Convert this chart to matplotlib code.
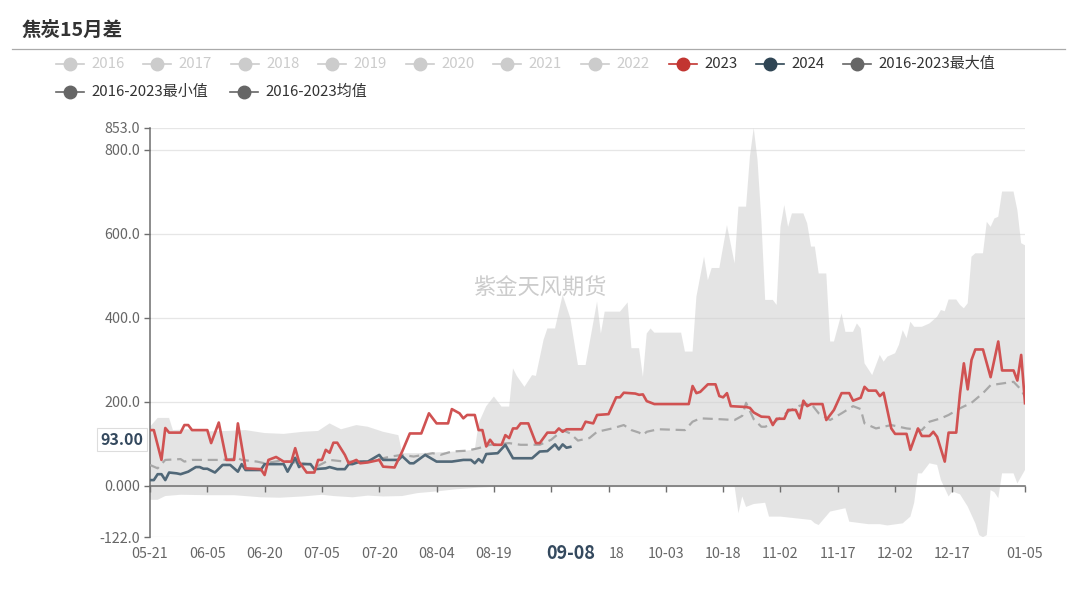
import matplotlib
matplotlib.use('Agg')
import numpy as np
import matplotlib.pyplot as plt
from matplotlib.lines import Line2D
from matplotlib import transforms

plt.rcParams['font.family'] = ['Noto Sans CJK SC', 'DejaVu Sans']

# days counted from 05-21 (0) to 01-05 (229)
tick_days = [0, 15, 30, 45, 60, 75, 90, 210, 195, 180, 165, 150, 135, 229]
tick_labels = ['05-21', '06-05', '06-20', '07-05', '07-20', '08-04', '08-19',
               '12-17', '12-02', '11-17', '11-02', '10-18', '10-03', '01-05']
tick_marks = [0, 15, 30, 45, 60, 75, 90, 105, 120, 135, 150, 165, 180, 195, 210, 229]

y_ticks = [-122, 0, 200, 400, 600, 800, 853]
y_labels = ['-122.0', '0.000', '200.0', '400.0', '600.0', '800.0', '853.0']

# 2023
d2023 = [0, 1, 3, 4, 5, 8, 9, 10, 11, 15, 16, 18, 20, 22, 23, 25, 29, 30, 31, 33,
         35, 37, 38, 39, 41, 43, 44, 45, 46, 47, 48, 49, 51, 52, 54, 55, 57, 60, 61, 64,
         66, 68, 71, 73, 75, 78, 79, 81, 82, 83, 85, 86, 87, 88, 89, 90, 92, 93, 94, 95,
         96, 97, 99, 101, 102, 104, 106, 107, 108, 109, 113, 114, 116, 117, 120, 122, 123,
         124, 127, 128, 129, 130, 132, 141, 142, 143, 144, 146, 148, 149, 150, 151, 152,
         156, 157, 158, 160, 162, 163, 164, 166, 167, 169, 170, 171, 172, 173, 176, 177,
         179, 181, 183, 184, 186, 187, 188, 190, 191, 192, 194, 195, 198, 199, 201, 202,
         204, 205, 206, 208, 209, 211, 212, 213, 214, 215, 216, 218, 220, 222, 223, 226,
         227, 228, 229]
v2023 = [133, 133, 62, 138, 127, 127, 145, 145, 133, 133, 102, 151, 62, 62, 149, 42, 40, 26, 62, 69,
         58, 58, 90, 58, 32, 32, 62, 62, 86, 79, 103, 103, 74, 54, 62, 54, 56, 62, 46, 44,
         82, 125, 125, 173, 149, 149, 183, 173, 161, 169, 169, 133, 133, 94, 110, 98, 98, 121, 114, 137,
         137, 149, 149, 102, 102, 127, 127, 137, 129, 135, 135, 153, 149, 169, 171, 211, 211,
         222, 220, 217, 218, 202, 195, 195, 238, 221, 224, 242, 242, 214, 211, 221, 190,
         188, 186, 175, 165, 164, 145, 160, 160, 181, 181, 161, 203, 190, 195, 195, 157,
         181, 221, 221, 203, 210, 236, 227, 227, 214, 222, 137, 124, 124, 86, 137, 119,
         119, 129, 117, 58, 127, 127, 221, 292, 230, 300, 325, 325, 259, 344, 275, 275,
         251, 312, 197]

# 2024
d2024 = [0, 1, 2, 3, 4, 5, 7, 8, 10, 12, 13, 14, 15, 17, 19, 21, 23, 24, 25, 29,
         30, 35, 36, 38, 39, 40, 42, 43, 46, 47, 49, 51, 52, 53, 55, 57, 60, 61, 65, 66,
         68, 69, 72, 75, 79, 82, 84, 85, 86, 87, 88, 91, 93, 95, 100, 102, 104, 106, 107,
         108, 109, 110]
v2024 = [14, 14, 28, 28, 14, 32, 30, 28, 34, 45, 45, 41, 41, 32, 50, 50, 34, 52, 38, 38,
         52, 52, 34, 67, 45, 52, 52, 40, 42, 45, 40, 40, 52, 52, 58, 58, 74, 62, 62, 71,
         54, 54, 74, 58, 58, 62, 62, 54, 64, 56, 76, 78, 98, 66, 66, 82, 83, 99, 87,
         99, 91, 93]

# 2016-2023 mean
d_avg = [0, 2, 4, 8, 9, 11, 19, 23, 24, 28, 30, 34, 36, 40, 44, 47, 51, 55, 57, 63,
         66, 69, 74, 76, 79, 83, 86, 89, 94, 97, 102, 105, 108, 110, 112, 115, 117, 121,
         124, 126, 128, 129, 130, 133, 140, 142, 144, 149, 153, 155, 156, 158, 160, 161,
         163, 167, 170, 173, 175, 178, 181, 184, 186, 187, 190, 194, 198, 202, 204, 207,
         209, 212, 215, 218, 220, 223, 226, 228, 229]
v_avg = [50, 42, 62, 64, 58, 62, 62, 66, 62, 58, 54, 60, 58, 54, 48, 62, 58, 58, 58, 70,
         74, 70, 78, 74, 82, 84, 90, 98, 102, 98, 98, 110, 133, 125, 108, 114, 129, 137,
         145, 133, 127, 121, 129, 135, 133, 153, 161, 159, 157, 167, 198, 159, 141, 141,
         149, 177, 191, 196, 173, 157, 173, 190, 183, 149, 137, 145, 137, 133, 153, 161,
         169, 185, 198, 221, 240, 244, 248, 229, 212]

# 2016-2023 max / min band
d_max = [0, 2, 5, 6, 10, 15, 20, 25, 30, 35, 40, 44, 47, 50, 54, 57, 61, 65, 66, 70,
         75, 80, 85, 86, 88, 90, 92, 94, 95, 96, 98, 100, 101, 103, 104, 106, 108, 110,
         112, 114, 117, 118, 119, 123, 125, 126, 128, 129, 130, 131, 132, 139, 140, 142,
         143, 145, 146, 147, 149, 151, 153, 154, 156, 157, 158, 159, 160, 161, 163, 164,
         165, 166, 167, 168, 171, 172, 173, 174, 175, 177, 178, 179, 181, 182, 184, 185,
         186, 187, 189, 191, 192, 193, 195, 196, 197, 198, 199, 200, 202, 204, 206, 207,
         208, 209, 211, 212, 213, 214, 215, 216, 218, 219, 220, 221, 222, 223, 226, 227,
         228, 229]
v_max = [141, 162, 162, 133, 135, 130, 131, 133, 126, 124, 129, 131, 149, 135, 145, 141, 129, 121, 78, 78,
         80, 82, 86, 149, 190, 213, 189, 189, 280, 262, 236, 264, 262, 348, 375, 375, 455, 400,
         288, 288, 439, 363, 415, 415, 437, 328, 328, 260, 363, 375, 365, 365, 320, 320,
         451, 546, 490, 519, 519, 621, 530, 665, 665, 784, 853, 776, 633, 443, 443, 431,
         617, 669, 617, 649, 649, 625, 570, 570, 506, 506, 344, 344, 411, 367, 367, 387,
         375, 292, 264, 312, 296, 308, 316, 336, 371, 352, 391, 379, 379, 387, 403, 419,
         416, 444, 444, 431, 423, 435, 546, 554, 554, 629, 617, 637, 641, 701, 701, 657,
         578, 573]
d_min = [0, 2, 4, 8, 15, 22, 29, 34, 40, 45, 48, 53, 57, 61, 66, 70, 75, 80, 86, 92,
         100, 153, 154, 155, 156, 158, 161, 162, 165, 169, 173, 174, 175, 178, 182, 183,
         188, 191, 193, 197, 199, 200, 201, 202, 204, 206, 207, 209, 210, 212, 214, 216,
         217, 218, 219, 220, 221, 222, 223, 226, 227, 229]
v_min = [-33, -33, -24, -21, -22, -22, -27, -28, -25, -21, -24, -27, -23, -25, -24, -17, -13, -8, -4, -1,
         -1, -1, -65, -25, -50, -43, -40, -73, -73, -77, -81, -89, -93, -61, -53, -85,
         -91, -91, -94, -89, -73, -40, 30, 30, 54, 50, 14, -25, -13, -20, -49, -89,
         -117, -122, -117, -10, -15, -29, 30, 30, 6, 38]

pointer_day = 110
pointer_value = 93.00

W, H = 1080, 591
fig = plt.figure(figsize=(W / 100, H / 100), dpi=100)
# plot area: x 150..1025 px, y 127.7..537.2 px
ax = fig.add_axes([150 / W, 1 - 537.2 / H, 875 / W, 409.5 / H])
ax.set_xlim(0, 229)
ax.set_ylim(-122, 853)

for yv in y_ticks:
    ax.axhline(yv, color='#e6e6e6', lw=0.9, zorder=0)

ax.fill(np.concatenate([d_max, d_min[::-1]]), np.concatenate([v_max, v_min[::-1]]),
        color='#cfcfcf', alpha=0.55, lw=0, zorder=1)

ax.plot(d_avg, v_avg, color='#a8a8a8', lw=1.6, dashes=(4.5, 2.6), zorder=3)
ax.plot(d2024, v2024, color='#516878', lw=1.9, zorder=4)
ax.plot(d2023, v2023, color='#d05252', lw=1.9, zorder=5)

for s in ['top', 'right']:
    ax.spines[s].set_visible(False)
ax.spines['left'].set_color('#6e6e6e')
ax.spines['left'].set_linewidth(1.1)
ax.spines['bottom'].set_position(('data', 0))
ax.spines['bottom'].set_color('#6e6e6e')
ax.spines['bottom'].set_linewidth(1.1)
ax.spines['bottom'].set_zorder(6)

ax.set_yticks(y_ticks)
ax.set_yticklabels(y_labels)
ax.tick_params(axis='y', length=4, width=1, color='#6e6e6e', labelcolor='#666666',
               labelsize=10.3, pad=3)
ax.set_xticks(tick_marks)
ax.tick_params(axis='x', length=4, width=1, color='#6e6e6e', labelbottom=False)

lab_tr = transforms.blended_transform_factory(ax.transData, ax.transAxes)
for d, lab in zip(tick_days, tick_labels):
    ax.text(d, -0.04, lab, transform=lab_tr, ha='center', va='center',
            fontsize=10.3, color='#666666')
ax.text(120, -0.04, '18', transform=lab_tr, ha='left', va='center',
        fontsize=10.3, color='#666666')
# axis pointer labels
ax.text(pointer_day, -0.04, '09-08', transform=lab_tr, ha='center', va='center',
        fontsize=13, color='#34495e', fontweight='bold')
ax.annotate('%.2f' % pointer_value, xy=(0, pointer_value), xycoords=('axes fraction', 'data'),
            xytext=(-5, 5), textcoords='offset points', ha='right', va='center',
            fontsize=11.5, color='#34495e', fontweight='bold',
            bbox=dict(boxstyle='square,pad=0.22', fc='white', ec='#dddddd', lw=0.8),
            annotation_clip=False)

# watermark
fig.text(540 / W, 1 - 288 / H, '紫金天风期货', ha='center', va='center',
         fontsize=16, color='#cccccc')

# title and separator
fig.text(22 / W, 1 - 30 / H, '焦炭15月差', ha='left', va='center', fontsize=14,
         fontweight='bold', color='#333333')
fig.add_artist(Line2D([12 / W, 1065 / W], [1 - 49 / H, 1 - 49 / H], color='#aaaaaa', lw=0.9))

# legend
legend_names = ['2016', '2017', '2018', '2019', '2020', '2021', '2022', '2023', '2024',
                '2016-2023最大值', '2016-2023最小值', '2016-2023均值']
legend_icon = ['#cccccc'] * 7 + ['#c23531', '#2f4554', '#666666', '#666666', '#666666']
legend_text = ['#cccccc'] * 7 + ['#333333'] * 5
legend_x = [70, 157, 245, 332, 420, 507, 595, 683, 770, 857, 70, 244]
legend_y = [64] * 10 + [92, 92]
for name, ic, tc, cx, cy in zip(legend_names, legend_icon, legend_text, legend_x, legend_y):
    fy = 1 - cy / H
    fig.add_artist(Line2D([(cx - 14) / W, (cx + 14) / W], [fy, fy], color=ic, lw=1.2))
    fig.add_artist(Line2D([cx / W], [fy], marker='o', markersize=9, color=ic, lw=0))
    fig.text((cx + 21) / W, fy, name, ha='left', va='center', fontsize=10.8, color=tc)

fig.savefig('out.png', dpi=100)
